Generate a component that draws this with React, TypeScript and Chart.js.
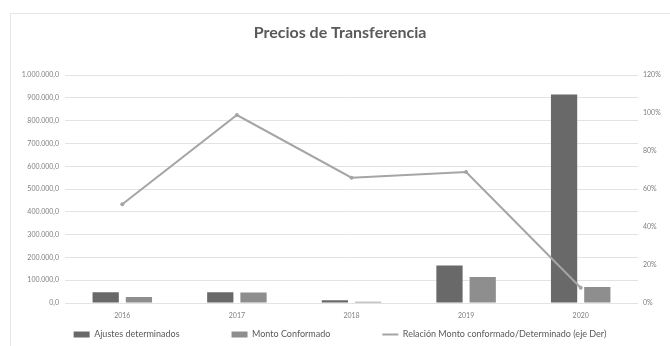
import React, { useEffect, useRef } from "react";
import { Chart, registerables } from "chart.js";

Chart.register(...registerables);

const categories = ["2016", "2017", "2018", "2019", "2020"];
const ajustesDeterminados = [47000, 47000, 12000, 165000, 915000];
const montoConformado = [26000, 46000, 5000, 114000, 70000];
const relacion = [0.52, 0.99, 0.66, 0.69, 0.08];

const seriesNames = [
  "Ajustes determinados",
  "Monto Conformado",
  "Relación Monto conformado/Determinado (eje Der)",
];
const chartTitle = "Precios de Transferencia";

function fmtLeft(v: number): string {
  const s = Math.round(v).toString().replace(/\B(?=(\d{3})+(?!\d))/g, ".");
  return s + ",0";
}

const legendHeightPlugin = {
  id: "legendHeight",
  afterInit(chart: any) {
    const lg = chart.legend;
    if (!lg) return;
    const orig = lg.fit.bind(lg);
    lg.fit = function () {
      orig();
      this.height = 18;
    };
    lg.draw = function () {
      const ctx = this.ctx;
      ctx.save();
      ctx.translate(0, -this.options.labels.padding + 6);
      this._draw();
      ctx.restore();
    };
  },
};

export default function App() {
  const ref = useRef<HTMLCanvasElement | null>(null);

  useEffect(() => {
    if (!ref.current) return;
    const font = "Lato, 'Open Sans', sans-serif";
    const chart = new Chart(ref.current, {
      type: "bar",
      plugins: [legendHeightPlugin],
      data: {
        labels: categories,
        datasets: [
          {
            type: "line",
            label: seriesNames[2],
            data: relacion,
            yAxisID: "y1",
            borderColor: "#a5a5a5",
            backgroundColor: "#a5a5a5",
            borderWidth: 2,
            pointRadius: 2,
            pointBackgroundColor: "#a5a5a5",
            pointBorderWidth: 0,
            order: 0,
          } as any,
          {
            label: seriesNames[0],
            data: ajustesDeterminados,
            backgroundColor: "#696969",
            borderWidth: 0,
            yAxisID: "y",
            order: 1,
            categoryPercentage: 0.58,
            barPercentage: 0.79,
          },
          {
            label: seriesNames[1],
            data: montoConformado,
            backgroundColor: "#8e8e8e",
            borderWidth: 0,
            yAxisID: "y",
            order: 1,
            categoryPercentage: 0.58,
            barPercentage: 0.79,
          },
        ],
      },
      options: {
        animation: false,
        responsive: false,
        maintainAspectRatio: false,
        layout: { padding: { left: 10, right: 0, top: 0, bottom: 4 } },
        plugins: {
          title: {
            display: true,
            text: chartTitle,
            color: "#595959",
            font: { family: font, size: 16, weight: "bold" },
            padding: { top: 23, bottom: 33 },
          },
          legend: {
            position: "bottom",
            labels: {
              color: "#595959",
              font: { family: font, size: 9 },
              usePointStyle: true,
              pointStyleWidth: 16,
              boxHeight: 6,
              padding: 52,
              generateLabels: (c: any) => {
                const items = Chart.defaults.plugins.legend.labels.generateLabels(c);
                const ordered = [items[1], items[2], items[0]];
                ordered.forEach((it: any, i: number) => {
                  if (i < 2) {
                    it.pointStyle = "rect";
                    it.lineWidth = 0;
                  } else {
                    it.pointStyle = "line";
                    it.lineWidth = 2;
                    it.strokeStyle = "#a5a5a5";
                  }
                });
                return ordered;
              },
            },
          },
          tooltip: { enabled: false },
        },
        scales: {
          x: {
            grid: { display: false, drawTicks: false },
            border: { display: false },
            ticks: { color: "#7f7f7f", font: { family: font, size: 7 }, padding: 9 },
            afterFit: (s: any) => {
              s.height = 21;
            },
          },
          y: {
            position: "left",
            min: 0,
            max: 1000000,
            ticks: {
              stepSize: 100000,
              color: "#7f7f7f",
              font: { family: font, size: 7 },
              padding: 6,
              callback: (v: any) => fmtLeft(Number(v)),
            },
            grid: { color: "#e3e3e3", drawTicks: false },
            border: { display: false },
            afterFit: (s: any) => {
              s.width = 55;
            },
          },
          y1: {
            position: "right",
            min: 0,
            max: 1.2,
            ticks: {
              stepSize: 0.2,
              color: "#7f7f7f",
              font: { family: font, size: 7 },
              padding: 5,
              callback: (v: any) => Math.round(Number(v) * 100) + "%",
            },
            grid: { drawOnChartArea: false, drawTicks: false },
            border: { display: false },
            afterFit: (s: any) => {
              s.width = 32;
            },
          },
        },
      },
    });
    return () => chart.destroy();
  }, []);

  return (
    <div
      style={{
        position: "fixed",
        left: 0,
        top: 0,
        width: 670,
        height: 346,
        background: "#ffffff",
      }}
    >
      <div
        style={{
          position: "absolute",
          left: 10,
          top: 13,
          right: 0,
          bottom: 0,
          borderTop: "1px solid #e6e6e6",
          borderLeft: "1px solid #e6e6e6",
        }}
      />
      <canvas ref={ref} width={670} height={346} style={{ position: "absolute", left: 0, top: 0 }} />
    </div>
  );
}
